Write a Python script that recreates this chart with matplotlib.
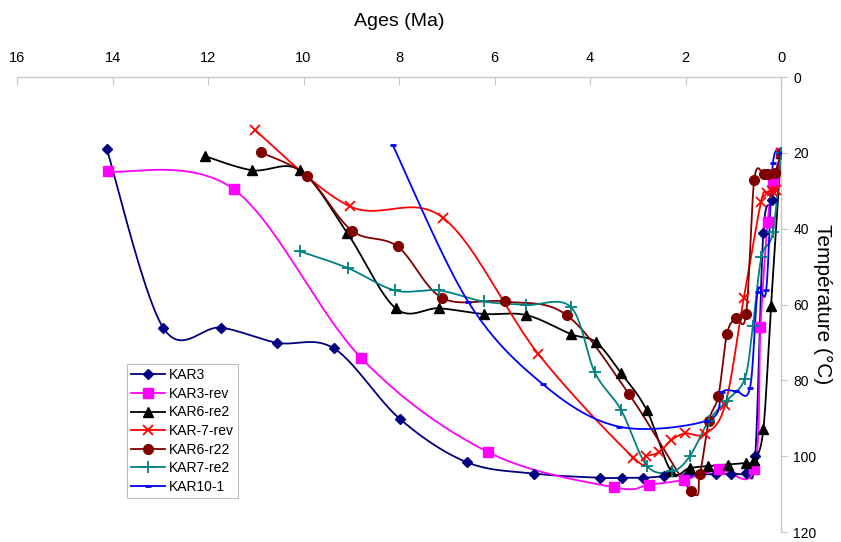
import numpy as np
import matplotlib
matplotlib.use('Agg')
import matplotlib.pyplot as plt
from matplotlib.lines import Line2D

plt.rcParams['font.family'] = ['Liberation Sans', 'DejaVu Sans']

# data (age in Ma, temperature in degC)
kar3_age = [14.12, 12.94, 11.73, 10.55, 9.36, 7.98, 6.58, 5.17, 3.79, 3.34, 2.88, 2.44, 1.97, 1.36, 1.05, 0.73, 0.54, 0.37, 0.19, 0.0]
kar3_t = [19.0, 66.1, 66.1, 70.1, 71.6, 90.2, 101.6, 104.6, 105.7, 105.7, 105.7, 105.3, 105.0, 104.7, 104.6, 104.4, 100.0, 41.1, 32.5, 20.0]

kar3rev_age = [14.09, 11.46, 8.80, 6.14, 3.50, 2.76, 2.03, 1.29, 0.56, 0.43, 0.28, 0.16, 0.0]
kar3rev_t = [24.9, 29.6, 74.0, 98.9, 108.2, 107.5, 106.2, 103.5, 103.4, 66.0, 38.3, 28.0, 20.0]

kar6re2_age = [12.06, 11.07, 10.07, 9.08, 8.07, 7.16, 6.23, 5.33, 4.40, 3.87, 3.35, 2.81, 2.30, 1.91, 1.52, 1.12, 0.73, 0.56, 0.37, 0.21, 0.0]
kar6re2_t = [20.9, 24.6, 24.6, 41.2, 61.0, 61.0, 62.5, 62.8, 67.8, 70.0, 78.1, 87.9, 104.0, 103.1, 102.6, 102.2, 101.8, 101.1, 92.9, 60.5, 20.0]

kar7rev_age = [11.02, 9.03, 7.07, 5.08, 3.09, 2.83, 2.55, 2.30, 2.01, 1.59, 1.17, 0.78, 0.42, 0.30, 0.19, 0.10, 0.0]
kar7rev_t = [14.0, 34.1, 37.2, 73.1, 100.4, 100.0, 98.9, 95.8, 94.0, 94.1, 86.5, 58.3, 33.0, 30.5, 30.1, 29.7, 20.0]

kar6r22_age = [10.89, 9.93, 8.99, 8.03, 7.09, 5.79, 4.49, 3.18, 1.89, 1.70, 1.51, 1.31, 1.13, 0.94, 0.73, 0.56, 0.36, 0.27, 0.13, 0.0]
kar6r22_t = [19.9, 26.1, 40.5, 44.7, 58.3, 59.2, 62.8, 83.7, 109.1, 104.7, 90.6, 84.0, 67.7, 63.6, 62.4, 27.1, 25.7, 25.5, 25.3, 20.0]

kar7re2_age = [10.07, 9.07, 8.08, 7.16, 6.23, 5.33, 4.40, 3.90, 3.35, 2.81, 2.28, 1.91, 1.51, 1.14, 0.76, 0.59, 0.41, 0.17, 0.0]
kar7re2_t = [46.0, 50.4, 56.3, 56.3, 59.2, 60.1, 60.7, 77.9, 87.8, 102.5, 104.0, 100.0, 90.6, 85.4, 79.6, 65.8, 47.5, 41.0, 20.0]

kar10_age = [8.13, 6.55, 4.99, 3.40, 1.54, 1.24, 0.95, 0.65, 0.49, 0.31, 0.17, 0.0]
kar10_t = [18.0, 59.3, 81.0, 92.2, 90.6, 83.2, 82.8, 82.0, 56.6, 56.2, 22.8, 20.0]

names = ['KAR3', 'KAR3-rev', 'KAR6-re2', 'KAR-7-rev', 'KAR6-r22', 'KAR7-re2', 'KAR10-1']


def smooth(x, y, n=24):
    # excel-like smoothed line (catmull-rom bezier)
    p = np.column_stack([x, y]).astype(float)
    out = [p[:1]]
    t = np.linspace(0, 1, n)[1:, None]
    for i in range(len(p) - 1):
        p0 = p[i - 1] if i > 0 else p[i]
        p1 = p[i]
        p2 = p[i + 1]
        p3 = p[i + 2] if i + 2 < len(p) else p[i + 1]
        c1 = p1 + (p2 - p0) / 6.0
        c2 = p2 - (p3 - p1) / 6.0
        seg = (1 - t) ** 3 * p1 + 3 * (1 - t) ** 2 * t * c1 + 3 * (1 - t) * t ** 2 * c2 + t ** 3 * p2
        out.append(seg)
    s = np.vstack(out)
    return s[:, 0], s[:, 1]


series = [
    (kar3_age, kar3_t, '#000080', 'D', 5.5, 1.0),
    (kar3rev_age, kar3rev_t, '#FF00FF', 's', 7, 1.0),
    (kar6re2_age, kar6re2_t, '#000000', '^', 7.5, 1.0),
    (kar7rev_age, kar7rev_t, '#FF0000', 'x', 7.5, 1.3),
    (kar6r22_age, kar6r22_t, '#800000', 'o', 7, 1.0),
    (kar7re2_age, kar7re2_t, '#008080', '+', 8, 1.3),
    (kar10_age, kar10_t, '#0000FF', '_', 5, 2.0),
]

fig = plt.figure(figsize=(8.41, 5.42), dpi=100)
ax = fig.add_axes([17 / 841, 1 - 532 / 542, 764 / 841, 455 / 542])

handles = []
for (a, t, c, m, ms, mew), name in zip(series, names):
    sx, sy = smooth(a, t)
    ax.plot(sx, sy, color=c, lw=1.3, zorder=2)
    ax.plot(a, t, ls='none', marker=m, color=c, ms=ms, mew=mew, zorder=3)
    handles.append(Line2D([], [], color=c, lw=1.3, marker=m, ms=ms, mew=mew, label=name))

ax.set_xlim(16, 0)
ax.set_ylim(120, 0)
ax.set_xticks(np.arange(0, 17, 2))
ax.set_yticks(np.arange(0, 121, 20))

ax.xaxis.tick_top()
ax.xaxis.set_label_position('top')
ax.yaxis.tick_right()
ax.yaxis.set_label_position('right')

for side in ['left', 'bottom']:
    ax.spines[side].set_visible(False)
for side in ['top', 'right']:
    ax.spines[side].set_color('#c8c8c8')
    ax.spines[side].set_linewidth(1.0)

ax.tick_params(axis='x', direction='in', length=6, color='#c8c8c8', labelsize=10.5, pad=9)
ax.tick_params(axis='y', direction='out', length=5, color='#c8c8c8', labelsize=10, pad=4)

ax.set_xlabel('Ages (Ma)', fontsize=14, labelpad=18)
ax.set_ylabel('Température (°C)', fontsize=15, rotation=-90, labelpad=4, va='center')

leg = ax.legend(handles=handles, loc='lower left', bbox_to_anchor=(0.144, 0.075),
                fontsize=10, frameon=True, fancybox=False, labelspacing=0.33,
                handlelength=2.4, handletextpad=0.3, borderpad=0.3, borderaxespad=0)
leg.get_frame().set_edgecolor('#b0b0b0')
leg.get_frame().set_linewidth(0.8)

plt.savefig('out.png', dpi=100)
